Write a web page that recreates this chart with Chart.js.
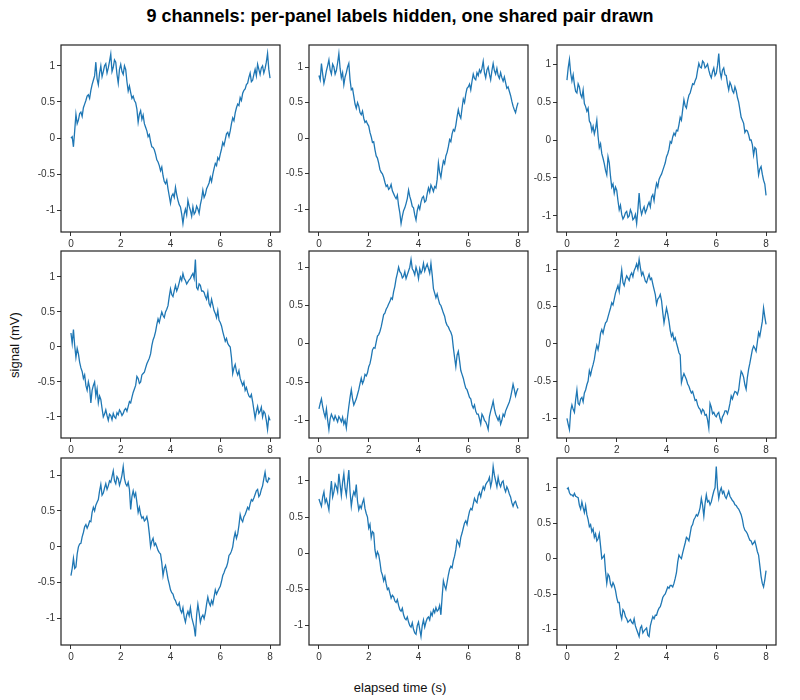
<!DOCTYPE html>
<html><head><meta charset="utf-8">
<script src="https://cdn.jsdelivr.net/npm/chart.js@4"></script>
<style>
html,body{margin:0;padding:0;background:#fff;}
body{width:800px;height:700px;position:relative;overflow:hidden;font-family:"Liberation Sans",Arial,sans-serif;}
#title{position:absolute;left:0;width:800px;top:6px;line-height:21px;text-align:center;font-weight:bold;font-size:18px;color:#000;}
.panel{position:absolute;}
#ylab{position:absolute;left:14px;top:345px;transform:translate(-50%,-50%) rotate(-90deg);font-size:13px;white-space:nowrap;color:#111;}
#xlab{position:absolute;left:400px;top:687px;transform:translate(-50%,-50%);font-size:13px;white-space:nowrap;color:#111;}
</style></head>
<body>
<div id="title">9 channels: per-panel labels hidden, one shared pair drawn</div>
<div id="ylab">signal (mV)</div>
<div id="xlab">elapsed time (s)</div>
<script>
const TIME = [
0,0.05,0.1,0.15,0.2,0.25,0.3,0.35,0.4,0.45,0.5,0.55,0.6,0.65,0.7,0.75,0.8,0.85,0.9,0.95,
1,1.05,1.1,1.15,1.2,1.25,1.3,1.35,1.4,1.45,1.5,1.55,1.6,1.65,1.7,1.75,1.8,1.85,1.9,1.95,
2,2.05,2.1,2.15,2.2,2.25,2.3,2.35,2.4,2.45,2.5,2.55,2.6,2.65,2.7,2.75,2.8,2.85,2.9,2.95,
3,3.05,3.1,3.15,3.2,3.25,3.3,3.35,3.4,3.45,3.5,3.55,3.6,3.65,3.7,3.75,3.8,3.85,3.9,3.95,
4,4.05,4.1,4.15,4.2,4.25,4.3,4.35,4.4,4.45,4.5,4.55,4.6,4.65,4.7,4.75,4.8,4.85,4.9,4.95,
5,5.05,5.1,5.15,5.2,5.25,5.3,5.35,5.4,5.45,5.5,5.55,5.6,5.65,5.7,5.75,5.8,5.85,5.9,5.95,
6,6.05,6.1,6.15,6.2,6.25,6.3,6.35,6.4,6.45,6.5,6.55,6.6,6.65,6.7,6.75,6.8,6.85,6.9,6.95,
7,7.05,7.1,7.15,7.2,7.25,7.3,7.35,7.4,7.45,7.5,7.55,7.6,7.65,7.7,7.75,7.8,7.85,7.9,7.95,
8];

const CH1 = [
0.00,0.02,-0.12,0.10,0.33,0.20,0.25,0.34,0.36,0.30,0.42,0.47,0.52,0.58,0.60,0.55,0.66,0.74,0.80,0.86,
1.05,0.82,0.74,0.90,1.00,0.85,0.92,1.00,1.03,0.90,0.97,1.06,1.16,0.92,0.98,1.08,1.05,0.88,0.76,0.95,
1.02,0.92,0.88,1.00,0.95,0.78,0.65,0.72,0.63,0.55,0.58,0.52,0.49,0.40,0.22,0.33,0.38,0.26,0.32,0.20,
0.15,0.10,0.02,0.05,-0.05,-0.12,-0.13,-0.16,-0.22,-0.30,-0.33,-0.38,-0.45,-0.40,-0.52,-0.60,-0.63,-0.58,-0.70,-0.80,
-0.90,-0.80,-0.77,-0.82,-0.68,-0.78,-0.86,-0.92,-0.95,-1.05,-1.18,-1.05,-0.98,-1.06,-0.86,-0.94,-1.00,-1.08,-0.95,-1.05,
-1.02,-0.94,-0.98,-1.04,-0.92,-0.84,-0.72,-0.82,-0.78,-0.70,-0.66,-0.62,-0.54,-0.60,-0.50,-0.42,-0.35,-0.38,-0.27,-0.30,
-0.22,-0.15,-0.06,-0.10,-0.02,0.06,0.08,0.02,0.10,0.20,0.28,0.24,0.35,0.42,0.47,0.45,0.56,0.52,0.62,0.66,
0.68,0.74,0.76,0.84,0.90,0.78,0.80,0.88,0.95,0.86,1.02,0.95,0.88,0.97,1.00,0.90,0.96,1.05,1.17,0.95,
0.83];

const CH2 = [
0.88,0.82,1.05,0.90,0.77,0.85,0.95,1.02,1.10,0.96,0.90,1.04,1.00,0.90,0.95,1.06,1.19,0.98,0.85,0.92,
0.75,0.86,0.92,1.00,1.05,0.82,0.68,0.70,0.59,0.48,0.42,0.50,0.45,0.36,0.33,0.38,0.28,0.22,0.24,0.20,
0.17,0.08,0.02,-0.06,-0.05,-0.16,-0.25,-0.28,-0.35,-0.44,-0.48,-0.50,-0.55,-0.62,-0.68,-0.66,-0.72,-0.70,-0.65,-0.74,
-0.78,-0.82,-0.85,-0.80,-0.95,-1.05,-1.20,-1.10,-1.02,-0.98,-0.92,-0.85,-0.73,-0.82,-0.88,-0.96,-0.98,-1.08,-1.15,-1.02,
-0.95,-1.00,-0.90,-0.84,-0.82,-0.90,-0.88,-0.78,-0.70,-0.76,-0.66,-0.70,-0.75,-0.68,-0.70,-0.58,-0.35,-0.48,-0.55,-0.42,
-0.32,-0.36,-0.25,-0.20,-0.12,-0.02,-0.05,0.06,0.12,0.10,0.18,0.30,0.40,0.32,0.28,0.42,0.55,0.50,0.62,0.70,
0.72,0.76,0.68,0.80,0.90,0.84,0.82,0.92,0.88,0.96,0.92,0.98,1.08,0.92,0.85,0.96,1.00,0.90,0.82,0.95,
1.05,0.95,0.90,0.98,0.88,0.84,0.92,0.85,0.80,0.86,0.78,0.70,0.72,0.66,0.60,0.52,0.45,0.40,0.36,0.44,
0.50];

const CH3 = [
0.79,0.95,1.06,0.88,0.78,0.86,0.73,0.64,0.62,0.74,0.70,0.60,0.56,0.66,0.48,0.44,0.38,0.42,0.25,0.22,
0.12,0.18,0.08,0.15,0.26,0.05,-0.10,-0.05,-0.18,-0.24,-0.31,-0.40,-0.46,-0.22,-0.30,-0.48,-0.62,-0.58,-0.70,-0.62,
-0.66,-0.80,-0.92,-0.86,-0.98,-1.04,-1.01,-0.96,-0.94,-1.02,-1.00,-0.92,-0.96,-1.05,-1.03,-0.98,-1.10,-0.92,-0.70,-0.90,
-0.98,-0.92,-0.88,-0.96,-0.92,-0.86,-0.82,-0.88,-0.75,-0.72,-0.80,-0.66,-0.57,-0.62,-0.52,-0.48,-0.45,-0.40,-0.35,-0.30,
-0.22,-0.18,-0.12,-0.02,-0.04,0.04,0.09,0.06,0.13,0.12,0.20,0.30,0.26,0.40,0.53,0.45,0.42,0.52,0.59,0.62,
0.68,0.74,0.73,0.78,0.82,0.92,1.01,0.96,0.95,1.04,1.02,0.95,0.97,1.00,0.92,0.86,0.82,0.90,0.95,0.85,
0.88,0.98,1.14,0.90,0.82,0.92,0.95,0.86,0.85,0.74,0.66,0.76,0.72,0.65,0.62,0.70,0.65,0.56,0.50,0.40,
0.30,0.26,0.22,0.10,0.13,0.12,0.07,0.00,0.00,-0.06,-0.20,-0.10,-0.12,-0.30,-0.46,-0.38,-0.35,-0.45,-0.53,-0.58,
-0.73];

const CH4 = [
0.20,0.05,0.25,0.02,-0.15,-0.02,-0.10,-0.22,-0.30,-0.35,-0.45,-0.40,-0.55,-0.62,-0.50,-0.58,-0.80,-0.62,-0.55,-0.50,
-0.70,-0.60,-0.80,-0.70,-0.75,-0.88,-1.00,-0.96,-0.90,-0.98,-1.05,-0.96,-0.98,-1.04,-0.95,-1.00,-1.02,-0.94,-0.97,-0.90,
-0.93,-0.98,-0.95,-0.90,-0.88,-0.92,-0.85,-0.78,-0.80,-0.72,-0.65,-0.60,-0.55,-0.42,-0.45,-0.52,-0.50,-0.40,-0.38,-0.36,
-0.30,-0.24,-0.20,-0.16,-0.10,0.02,0.10,0.15,0.22,0.32,0.40,0.35,0.43,0.50,0.45,0.42,0.50,0.54,0.59,0.72,
0.83,0.75,0.72,0.80,0.88,0.80,0.85,0.92,1.00,0.95,1.05,0.98,0.95,0.90,0.93,0.96,0.98,1.02,1.05,0.98,
1.25,0.85,0.82,0.90,0.88,0.80,0.80,0.78,0.72,0.68,0.78,0.62,0.58,0.68,0.60,0.52,0.48,0.42,0.52,0.38,
0.35,0.30,0.22,0.15,0.08,0.12,0.05,0.02,0.00,-0.15,-0.38,-0.30,-0.25,-0.35,-0.40,-0.34,-0.45,-0.50,-0.55,-0.50,
-0.62,-0.58,-0.65,-0.70,-0.72,-0.68,-0.78,-0.90,-1.02,-0.92,-0.85,-0.95,-0.92,-0.86,-1.00,-0.92,-0.95,-1.05,-1.18,-1.00,
-1.05];

const CH5 = [
-0.85,-0.78,-0.72,-0.82,-0.90,-0.96,-0.85,-1.00,-1.12,-0.98,-0.92,-0.96,-1.00,-0.94,-0.98,-1.02,-0.95,-0.98,-1.02,-0.96,
-1.05,-1.00,-1.10,-0.95,-0.82,-0.70,-0.60,-0.72,-0.80,-0.76,-0.72,-0.66,-0.60,-0.52,-0.45,-0.52,-0.48,-0.40,-0.42,-0.38,
-0.30,-0.26,-0.18,-0.08,-0.05,-0.06,0.02,0.10,0.12,0.16,0.22,0.30,0.38,0.40,0.45,0.48,0.52,0.55,0.60,0.58,
0.68,0.75,0.85,0.92,1.00,0.94,0.92,0.86,0.88,0.94,0.85,0.90,0.95,1.00,1.10,0.98,0.95,0.90,1.00,0.94,
0.85,0.98,0.92,0.96,1.05,0.95,1.00,1.04,0.98,0.92,1.05,0.90,0.72,0.66,0.60,0.65,0.58,0.52,0.50,0.45,
0.40,0.36,0.28,0.24,0.22,0.18,0.15,0.10,-0.05,-0.18,-0.30,-0.15,-0.10,-0.22,-0.35,-0.40,-0.45,-0.52,-0.58,-0.60,
-0.65,-0.70,-0.72,-0.80,-0.84,-0.80,-0.88,-0.92,-0.92,-0.98,-1.05,-0.92,-0.95,-1.00,-1.02,-1.06,-1.12,-0.95,-0.88,-0.82,
-0.75,-0.85,-0.92,-0.96,-1.00,-0.95,-1.05,-1.00,-0.92,-0.95,-0.88,-0.84,-0.80,-0.76,-0.70,-0.62,-0.53,-0.60,-0.68,-0.62,
-0.58];

const CH6 = [
-1.00,-1.08,-1.15,-0.90,-0.82,-0.88,-0.92,-0.75,-0.62,-0.80,-0.82,-0.74,-0.72,-0.78,-0.66,-0.62,-0.55,-0.50,-0.36,-0.42,
-0.34,-0.28,-0.21,-0.10,-0.02,-0.08,0.01,0.14,0.19,0.14,0.22,0.28,0.30,0.36,0.42,0.48,0.55,0.52,0.60,0.68,
0.73,0.78,0.70,0.85,0.99,0.82,0.78,0.86,0.91,0.88,0.85,0.92,0.95,0.90,0.98,1.02,1.07,1.00,1.13,1.02,
0.92,0.96,0.90,0.84,0.82,0.88,0.93,0.86,0.88,0.80,0.73,0.66,0.53,0.60,0.62,0.66,0.58,0.42,0.28,0.38,
0.48,0.40,0.30,0.18,0.10,0.14,0.05,0.08,0.01,-0.05,-0.12,-0.15,-0.52,-0.45,-0.40,-0.44,-0.48,-0.54,-0.57,-0.62,
-0.66,-0.64,-0.70,-0.76,-0.75,-0.82,-0.86,-0.88,-0.93,-0.88,-0.90,-0.96,-0.95,-1.02,-1.13,-0.80,-0.85,-0.94,-0.92,-0.96,
-0.98,-0.94,-0.92,-1.00,-1.05,-0.98,-0.95,-0.90,-0.90,-0.94,-0.88,-0.80,-0.70,-0.74,-0.68,-0.64,-0.65,-0.68,-0.62,-0.48,
-0.37,-0.40,-0.45,-0.55,-0.61,-0.45,-0.34,-0.26,-0.17,-0.08,-0.03,-0.06,-0.10,0.02,0.15,0.10,0.20,0.30,0.48,0.36,
0.26];

const CH7 = [
-0.40,-0.30,-0.16,-0.30,-0.28,-0.10,0.00,0.04,0.05,0.14,0.20,0.28,0.31,0.26,0.30,0.36,0.35,0.48,0.55,0.50,
0.58,0.62,0.66,0.78,0.87,0.72,0.75,0.82,0.88,0.80,0.85,0.92,0.90,0.98,1.06,0.92,0.88,0.98,0.95,0.86,
0.92,1.00,1.12,0.95,0.88,0.85,0.90,0.80,0.52,0.70,0.78,0.70,0.75,0.62,0.48,0.55,0.45,0.40,0.42,0.36,
0.38,0.42,0.33,0.18,0.00,0.08,0.12,0.02,0.05,0.00,-0.05,-0.08,-0.10,-0.22,-0.40,-0.30,-0.26,-0.35,-0.45,-0.52,
-0.60,-0.64,-0.66,-0.72,-0.75,-0.80,-0.82,-0.78,-0.88,-0.92,-0.85,-0.98,-1.05,-0.95,-0.90,-0.96,-0.85,-0.98,-1.05,-1.12,
-1.25,-0.95,-0.80,-0.92,-1.05,-0.98,-0.95,-1.00,-0.92,-0.80,-0.70,-0.78,-0.82,-0.75,-0.80,-0.70,-0.60,-0.66,-0.62,-0.58,
-0.55,-0.48,-0.40,-0.36,-0.31,-0.28,-0.22,-0.12,-0.10,-0.06,0.00,0.12,0.20,0.12,0.18,0.30,0.45,0.38,0.35,0.42,
0.45,0.50,0.55,0.52,0.60,0.66,0.64,0.68,0.73,0.78,0.80,0.70,0.73,0.80,0.85,0.95,1.04,0.92,0.90,0.96,
0.94];

const CH8 = [
0.75,0.70,0.65,0.78,0.85,0.70,0.75,0.68,0.60,0.82,1.00,0.78,0.85,0.96,0.92,0.85,1.10,0.95,0.80,0.98,
1.10,0.90,0.80,0.98,1.15,0.85,0.65,0.78,0.85,0.80,0.95,0.72,0.60,0.66,0.62,0.70,0.75,0.62,0.55,0.50,
0.35,0.40,0.22,0.30,0.28,0.05,-0.05,0.02,-0.02,-0.12,-0.25,-0.30,-0.38,-0.32,-0.42,-0.50,-0.48,-0.55,-0.62,-0.58,
-0.60,-0.66,-0.68,-0.64,-0.72,-0.78,-0.80,-0.76,-0.85,-0.90,-0.92,-0.88,-0.95,-1.00,-1.02,-0.96,-1.05,-1.10,-1.12,-1.00,
-0.95,-1.05,-1.15,-1.00,-0.92,-1.02,-0.95,-0.90,-0.88,-0.92,-0.82,-0.86,-0.78,-0.82,-0.75,-0.80,-0.78,-0.72,-0.85,-0.60,
-0.38,-0.45,-0.50,-0.40,-0.30,-0.22,-0.18,-0.20,-0.10,-0.04,0.05,0.18,0.15,0.10,0.22,0.28,0.35,0.42,0.45,0.40,
0.50,0.58,0.62,0.60,0.68,0.76,0.72,0.70,0.80,0.84,0.78,0.86,0.92,0.88,0.95,0.98,1.00,1.05,0.92,1.00,
1.20,1.08,1.00,0.92,1.05,0.96,0.92,0.98,1.00,0.90,0.85,0.92,0.88,0.82,0.78,0.70,0.65,0.70,0.72,0.66,
0.62];

const CH9 = [
0.98,1.00,0.93,0.90,0.90,0.88,0.92,0.88,0.87,0.86,0.75,0.70,0.80,0.72,0.65,0.75,0.62,0.55,0.45,0.48,
0.38,0.42,0.30,0.35,0.25,0.28,0.35,0.18,0.00,0.02,0.05,-0.18,-0.35,-0.22,-0.25,-0.36,-0.40,-0.34,-0.38,-0.45,
-0.55,-0.62,-0.62,-0.78,-0.85,-0.72,-0.75,-0.82,-0.85,-0.90,-0.88,-0.86,-0.90,-0.92,-0.85,-0.95,-1.00,-1.05,-1.10,-0.98,
-0.95,-1.05,-1.02,-1.00,-0.98,-1.08,-1.10,-0.95,-0.88,-0.82,-0.85,-0.80,-0.80,-0.74,-0.70,-0.68,-0.62,-0.55,-0.52,-0.50,
-0.45,-0.40,-0.42,-0.38,-0.38,-0.40,-0.35,-0.28,-0.20,-0.05,0.05,0.02,0.00,0.08,0.15,0.22,0.30,0.28,0.25,0.35,
0.45,0.48,0.55,0.58,0.62,0.60,0.65,0.72,0.85,0.75,0.60,0.78,0.90,0.80,0.82,0.76,0.80,0.88,0.95,1.00,
1.30,1.00,0.85,0.95,1.00,0.92,0.95,0.88,0.85,0.90,0.95,0.88,0.85,0.82,0.80,0.76,0.75,0.72,0.70,0.66,
0.62,0.55,0.45,0.40,0.38,0.35,0.30,0.26,0.25,0.20,0.22,0.25,0.18,0.10,0.05,-0.10,-0.25,-0.35,-0.40,-0.30,
-0.17];

const CHANNELS = [CH1,CH2,CH3,CH4,CH5,CH6,CH7,CH8,CH9];
const X_TICKS = [0,2,4,6,8];
const Y_TICKS = [-1,-0.5,0,0.5,1];

const FONT = '"Liberation Sans", Arial, sans-serif';
const PANEL_LEFT = [61,309,557], PANEL_TOP = [43,249,456];
const PANEL_W = 219, PANEL_H = 189;
const AXW = 40, AXH = 22, PAD = 6;

const frame = {
  id:'frame',
  afterDraw(chart){
    const a = chart.chartArea, ctx = chart.ctx;
    ctx.save();
    ctx.strokeStyle = '#222';
    ctx.lineWidth = 1.2;
    ctx.strokeRect(a.left, a.top, a.right - a.left, a.bottom - a.top);
    ctx.restore();
  }
};

const tMin = Math.min(...TIME), tMax = Math.max(...TIME), tPad = (tMax - tMin) * 0.05;

function axisCommon(){
  return {
    grid:{display:true, drawOnChartArea:false, drawTicks:true, tickLength:4, color:'#333', lineWidth:1},
    border:{display:false},
    ticks:{padding:2, font:{size:10, family:FONT}, color:'#333', maxRotation:0, autoSkip:false,
           callback:v => String(v)}
  };
}

CHANNELS.forEach((vals, i) => {
  const fx = PANEL_LEFT[i % 3], fy = PANEL_TOP[Math.floor(i / 3)];
  const wrap = document.createElement('div');
  wrap.className = 'panel';
  wrap.style.left = (fx - AXW) + 'px';
  wrap.style.top = (fy - PAD) + 'px';
  wrap.style.width = (PANEL_W + AXW + PAD) + 'px';
  wrap.style.height = (PANEL_H + PAD + AXH) + 'px';
  const c = document.createElement('canvas');
  wrap.appendChild(c);
  document.body.appendChild(wrap);
  const lo = Math.min(...vals), hi = Math.max(...vals), p = (hi - lo) * 0.05;
  const xs = axisCommon(), ys = axisCommon();
  new Chart(c, {
    type:'line',
    data:{datasets:[{
      data: TIME.map((t, k) => ({x:t, y:vals[k]})),
      borderColor:'#1f77b4', borderWidth:1.3, pointRadius:0, tension:0, fill:false
    }]},
    options:{
      responsive:true, maintainAspectRatio:false, animation:false, events:[],
      layout:{padding:{top:PAD, right:PAD, left:0, bottom:0}},
      plugins:{legend:{display:false}, tooltip:{enabled:false}, title:{display:false}},
      scales:{
        x:Object.assign(xs, {type:'linear', min:tMin - tPad, max:tMax + tPad,
          afterBuildTicks:s => { s.ticks = X_TICKS.map(v => ({value:v})); },
          afterFit:s => { s.height = AXH; }}),
        y:Object.assign(ys, {type:'linear', min:lo - p, max:hi + p,
          afterBuildTicks:s => { s.ticks = Y_TICKS.map(v => ({value:v})); },
          afterFit:s => { s.width = AXW; }})
      }
    },
    plugins:[frame]
  });
});
</script>
</body></html>
